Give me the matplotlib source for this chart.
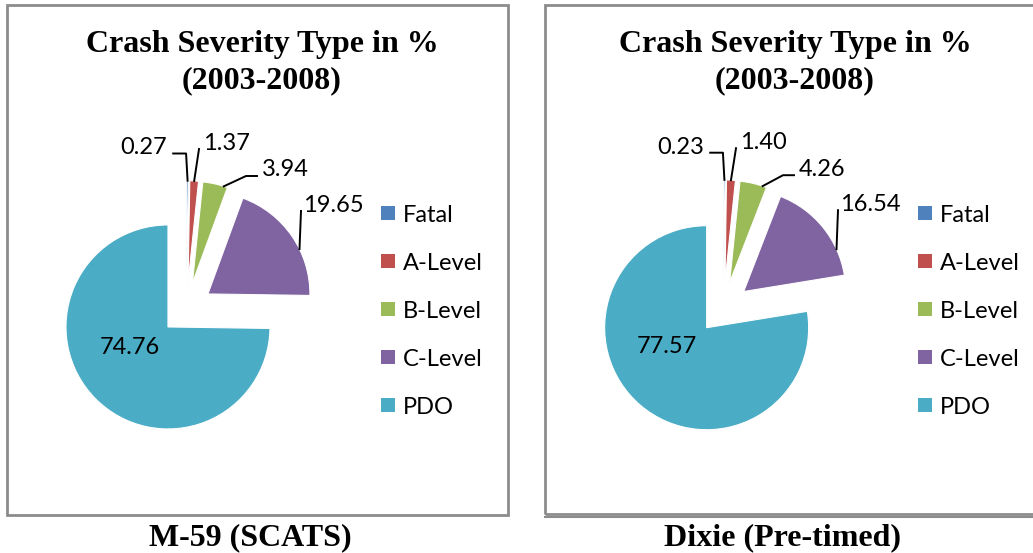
import numpy as np
import matplotlib
matplotlib.use("Agg")
import matplotlib.pyplot as plt
from matplotlib.patches import Rectangle

# data
categories = ["Fatal", "A-Level", "B-Level", "C-Level", "PDO"]
m59_pct = [0.27, 1.37, 3.94, 19.65, 74.76]
dixie_pct = [0.23, 1.40, 4.26, 16.54, 77.57]
m59_labels = ["0.27", "1.37", "3.94", "19.65", "74.76"]
dixie_labels = ["0.23", "1.40", "4.26", "16.54", "77.57"]
chart_title = ["Crash Severity Type in %", "(2003-2008)"]
captions = ["M-59 (SCATS)", "Dixie (Pre-timed)"]

colors = ["#4F81BD", "#C0504D", "#9BBB59", "#8064A2", "#4BACC6"]

W, H = 1033, 553
fig = plt.figure(figsize=(W / 100, H / 100), dpi=100)
ax = fig.add_axes([0, 0, 1, 1])

LBL = dict(family="Lato", fontsize=17, color="black")
TTL = dict(family="Liberation Serif", fontsize=23, fontweight="bold", color="black")


def Y(y):
    # layout given in pixels from the top
    return H - y


def arc_pt(w, f):
    a = np.radians(w.theta2 - f * (w.theta2 - w.theta1))
    return w.center[0] + w.r * np.cos(a), w.center[1] + w.r * np.sin(a)


def draw_panel(vals, labels, caption, cx, cy, box, title_x, cap_x):
    wedges, _ = ax.pie(vals, explode=[26] * 5, radius=102, center=(cx, Y(cy)),
                       startangle=90, counterclock=False, colors=colors,
                       wedgeprops=dict(edgecolor="white", linewidth=0.8))
    cyu = Y(cy)
    # label for PDO inside
    ax.text(cx - 56.5, cyu - 36.3 - 8.5, labels[4], ha="center", va="baseline", **LBL)

    # fatal: text left, elbow leader
    tx, ty = cx - 19.8, cyu + 162.7
    ax.text(tx, ty - 8.5, labels[0], ha="right", va="baseline", **LBL)
    px, py = arc_pt(wedges[0], 0.5)
    ax.plot([tx + 6.5, px - 1.5, px], [ty - 7.5, ty - 7.5, py], color="black", lw=1.4)

    # A-level
    tx, ty = cx + 16.5, cyu + 167.7
    ax.text(tx, ty - 8.5, labels[1], ha="left", va="baseline", **LBL)
    px, py = arc_pt(wedges[1], 0.5)
    ax.plot([tx - 4, px], [ty - 8, py], color="black", lw=1.4)

    # B-level
    tx, ty = cx + 75.5, cyu + 140.7
    ax.text(tx, ty - 8.5, labels[2], ha="left", va="baseline", **LBL)
    px, py = arc_pt(wedges[2], 0.85)
    ax.plot([tx - 5, tx - 16, px], [ty - 8, ty - 8, py], color="black", lw=1.4)

    # C-level, vertical leader
    tx, ty = cx + 117, cyu + 105.7
    ax.text(tx, ty - 8.5, labels[3], ha="left", va="baseline", **LBL)
    w = wedges[3]
    xl = tx - 4
    a = np.arccos((xl - w.center[0]) / w.r)
    py = w.center[1] + w.r * np.sin(a)
    ax.plot([xl + 1.5, xl], [ty - 8, py], color="black", lw=1.4)

    # legend
    for i, name in enumerate(categories):
        yc = 213 + 48 * i
        ax.add_patch(Rectangle((cx + 194, Y(yc) - 7), 14, 14, facecolor=colors[i],
                               edgecolor="none"))
        ax.text(cx + 216, Y(yc) - 8.5, name, ha="left", va="baseline", **LBL)

    # titles
    ax.text(title_x, Y(52), chart_title[0], ha="center", va="baseline", **TTL)
    ax.text(title_x, Y(88), chart_title[1], ha="center", va="baseline", **TTL)
    ax.text(cap_x, Y(545), caption, ha="center", va="baseline", **TTL)

    x0, y0, x1, y1 = box
    ax.add_patch(Rectangle((x0, Y(y1)), x1 - x0, y1 - y0, fill=False,
                           edgecolor="#8c8c8c", linewidth=2))


draw_panel(m59_pct, m59_labels, captions[0], 186.5, 308.7, (7, 5, 508, 515), 262, 250)
draw_panel(dixie_pct, dixie_labels, captions[1], 723.5, 307.9, (545, 5, 1045, 514), 795, 783)
ax.plot([545, W], [Y(517), Y(517)], color="#8c8c8c", lw=1.5)

ax.set_xlim(0, W)
ax.set_ylim(0, H)
ax.set_aspect("auto")
ax.axis("off")

fig.savefig("out.png", dpi=100)
